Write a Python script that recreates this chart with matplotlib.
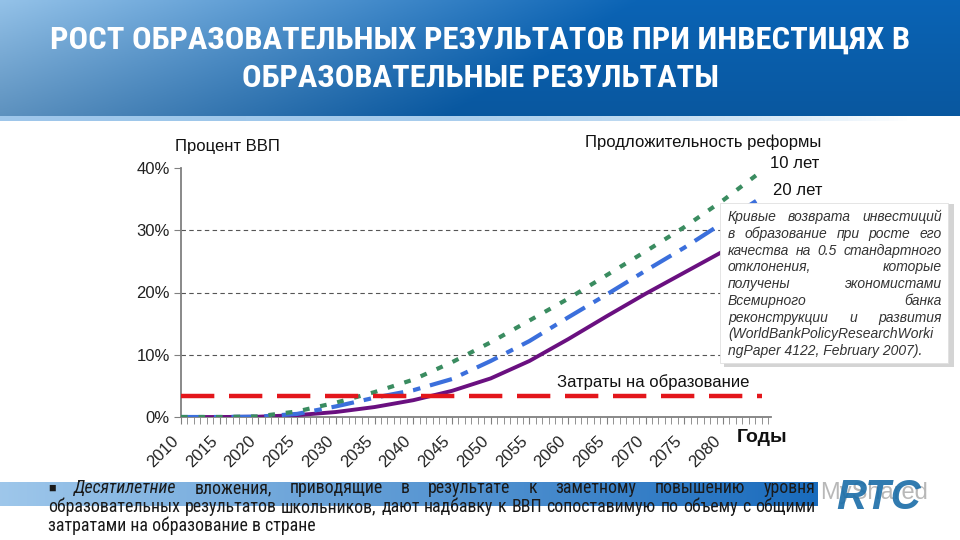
import numpy as np
import matplotlib
matplotlib.use("Agg")
import matplotlib.pyplot as plt
from matplotlib.patches import Rectangle
from matplotlib.transforms import ScaledTranslation

# data (percent of GDP)
years = [2010, 2015, 2020, 2025, 2030, 2035, 2040, 2045, 2050, 2055, 2060, 2065, 2070, 2075, 2080, 2085]
reform_10 = [0, 0, 0.1, 0.9, 2.3, 4.0, 6.0, 8.8, 12.0, 15.5, 19.0, 22.8, 26.6, 30.5, 34.8, 39.5]
reform_20 = [0, 0, 0.05, 0.5, 1.7, 3.1, 4.3, 6.1, 9.0, 12.2, 16.0, 19.7, 23.5, 27.2, 31.2, 35.3]
reform_30 = [0, 0, 0.05, 0.3, 0.8, 1.6, 2.7, 4.2, 6.2, 9.0, 12.5, 16.2, 19.8, 23.2, 26.6, 30.0]
spending = [3.4, 3.4]
spending_years = [2010, 2085]
tick_years = list(range(2010, 2081, 5))
y_ticks = [0, 10, 20, 30, 40]

title1 = "РОСТ ОБРАЗОВАТЕЛЬНЫХ РЕЗУЛЬТАТОВ ПРИ ИНВЕСТИЦЯХ В"
title2 = "ОБРАЗОВАТЕЛЬНЫЕ РЕЗУЛЬТАТЫ"
box_lines = ["Кривые возврата инвестиций",
             "в образование при росте его",
             "качества на 0.5 стандартного",
             "отклонения, которые",
             "получены экономистами",
             "Всемирного банка",
             "реконструкции и развития",
             "(WorldBankPolicyResearchWorki",
             "ngPaper 4122, February 2007)."]

W, H = 960, 540
narrow = ['Roboto Condensed', 'DejaVu Sans Condensed', 'Liberation Sans']
plain = ['Liberation Sans', 'DejaVu Sans']


def fx(x):
    return x / W


def fy(y):
    return 1 - y / H


fig = plt.figure(figsize=(9.6, 5.4), dpi=100)
fig.patch.set_facecolor('white')

# header band with gradient
hdr = fig.add_axes([0, fy(116), 1, 116 / H])
gx = np.linspace(0, 1, 300)[None, :, None]
gy = np.linspace(0, 1, 60)[:, None, None]
c_left = np.array([0.58, 0.76, 0.91])
c_right = np.array([0.04, 0.39, 0.71])
t = np.clip(gx * 1.5 + gy * 0.3, 0, 1)
img = c_left * (1 - t) + c_right * t
img = img * (1 - 0.12 * gy)
hdr.imshow(img, aspect='auto', extent=[0, 1, 0, 1], origin='upper')
hdr.set_axis_off()
strip = fig.add_axes([0, fy(121), 0.95, 5 / H])
sx = np.linspace(0, 1, 200)[None, :, None]
simg = np.array([0.62, 0.78, 0.92]) * (1 - sx ** 3) + np.array([1.0, 1.0, 1.0]) * sx ** 3
strip.imshow(simg, aspect='auto', extent=[0, 1, 0, 1])
strip.set_axis_off()

fig.text(0.5, fy(40), title1, color='white', fontsize=23.4, fontweight='bold',
         family=narrow, ha='center', va='center')
fig.text(0.5, fy(78), title2, color='white', fontsize=23.4, fontweight='bold',
         family=narrow, ha='center', va='center')

# main chart
ax = fig.add_axes([fx(181), fy(417), fx(771) - fx(181), (417 - 168) / H])
ax.plot(years, reform_30, color='#6a1080', lw=2.8, solid_capstyle='butt', zorder=3)
ax.plot(years, reform_20, color='#3b6fdc', lw=3.0, linestyle=(0, (5.5, 2.4, 1.8, 2.4)), zorder=3)
ax.plot(years, reform_10, color='#3a8c60', lw=3.0, linestyle=(0, (1.6, 2.6)), zorder=3)
ax.plot(spending_years, spending, color='#e3161b', lw=3.2, linestyle=(0, (7.5, 3.3)), zorder=3)

ax.set_xlim(2010, 2086.2)
ax.set_ylim(0, 40)
ax.set_yticks(y_ticks)
ax.set_yticklabels([f"{v}%" for v in y_ticks], fontsize=12, color='#222222', family=plain)
ax.set_xticks(tick_years)
ax.set_xticklabels([])
# year labels drawn as texts, nudged left like in the original slide
shift = ScaledTranslation(-0.10, -0.16, fig.dpi_scale_trans)
for yr in tick_years:
    ax.text(yr, 0, str(yr), transform=ax.get_xaxis_transform() + shift,
            rotation=45, ha='right', va='top', rotation_mode='anchor',
            fontsize=12, color='#222222', family=plain, clip_on=False)
ax.set_xticks(np.arange(2010, 2086.2, 5 / 6), minor=True)
ax.tick_params(axis='x', which='both', length=5, color='#808080')
ax.tick_params(axis='y', length=5, color='#808080', pad=3)
for yv in y_ticks[1:-1]:
    ax.axhline(yv, color='#555555', lw=0.8, linestyle=(0, (4, 3)), zorder=1)
for s in ['top', 'right']:
    ax.spines[s].set_visible(False)
for s in ['left', 'bottom']:
    ax.spines[s].set_color('#808080')
    ax.spines[s].set_linewidth(1.3)

fig.text(fx(175), fy(147), "Процент ВВП", fontsize=12, family=plain, va='center', color='#111111')
fig.text(fx(585), fy(142), "Продложительность реформы", fontsize=12, family=plain, va='center', color='#111111')
fig.text(fx(770), fy(163), "10 лет", fontsize=12, family=plain, va='center', color='#111111')
fig.text(fx(773), fy(191), "20 лет", fontsize=12, family=plain, va='center', color='#111111')
fig.text(fx(557), fy(382), "Затраты на образование", fontsize=12, family=plain, va='center', color='#111111')
fig.text(fx(737), fy(438), "Годы", fontsize=14, fontweight='bold', family=plain, va='center', color='#111111')

# note box with shadow
fig.add_artist(Rectangle((fx(724), fy(367)), (950 - 720) / W, (367 - 204) / H,
                         transform=fig.transFigure, facecolor='#b8b8b8', edgecolor='none',
                         alpha=0.6, zorder=5))
fig.add_artist(Rectangle((fx(720), fy(363)), (948 - 720) / W, (363 - 203) / H,
                         transform=fig.transFigure, facecolor='white', edgecolor='#e0e0e0',
                         lw=0.6, zorder=6))

renderer = fig.canvas.get_renderer()


def justify(words, x0, x1, y, **kw):
    # spread words between x0 and x1 (pixels)
    items = []
    for w in words:
        if isinstance(w, tuple):
            txt, extra = w
        else:
            txt, extra = w, {}
        opts = dict(kw)
        opts.update(extra)
        items.append(fig.text(0, fy(y), txt, va='center', **opts))
    widths = [it.get_window_extent(renderer).width for it in items]
    gap = (x1 - x0 - sum(widths)) / max(len(items) - 1, 1)
    x = x0
    for it, wd in zip(items, widths):
        it.set_x(fx(x))
        x += wd + gap


box_y = [217, 234, 251, 267, 284, 301, 318, 334, 351]
for i, (line, y) in enumerate(zip(box_lines, box_y)):
    kw = dict(fontsize=10, style='italic', family=plain, color='#333333', zorder=7)
    if i >= 7:
        fig.text(fx(728), fy(y), line, va='center', **kw)
    else:
        justify(line.split(), 728, 942, y, **kw)

# bottom bar with gradient
bar = fig.add_axes([0, fy(506), 818 / W, 24 / H])
bx = np.linspace(0, 1, 300)[None, :, None]
bimg = np.array([0.62, 0.78, 0.92]) * (1 - bx) + np.array([0.10, 0.42, 0.74]) * bx
bar.imshow(bimg, aspect='auto', extent=[0, 1, 0, 1])
bar.set_axis_off()

fig.text(fx(820), fy(493), "MyShared", fontsize=17, color='#8a8a8a', alpha=0.6,
         family=plain, va='center', zorder=2)
fig.text(fx(836), fy(498), "RTC", fontsize=30, color='#1a6da8', fontweight='bold',
         style='italic', family=plain, va='center', alpha=0.9, zorder=3)

bkw = dict(fontsize=12.9, family=narrow, color='#1a1a1a')
justify([("■", {'fontsize': 9}), ("Десятилетние", {'style': 'italic'}), "вложения,", "приводящие",
         "в", "результате", "к", "заметному", "повышению", "уровня"], 48, 815, 488, **bkw)
justify("образовательных результатов школьников, дают надбавку к ВВП сопоставимую по объему с общими".split(),
        48, 815, 507, **bkw)
fig.text(fx(48), fy(526), "затратами на образование в стране", va='center', **bkw)

fig.savefig("out.png", dpi=100)
